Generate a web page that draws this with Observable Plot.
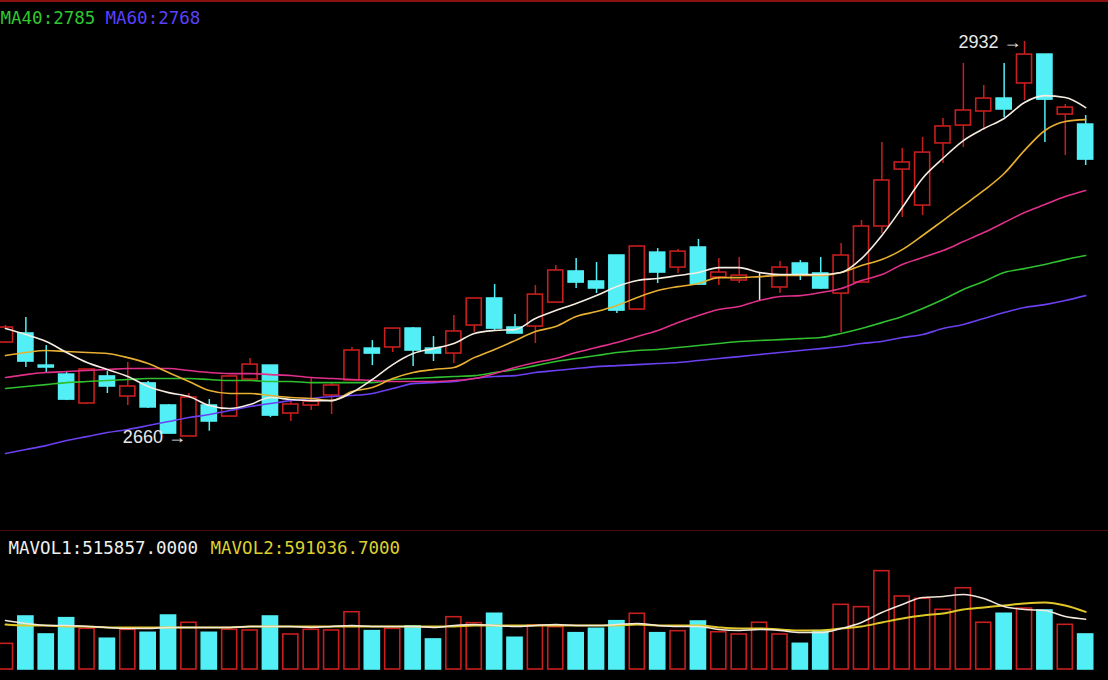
<!DOCTYPE html>
<html><head><meta charset="utf-8">
<script src="https://cdn.jsdelivr.net/npm/d3@7"></script>
<script src="https://cdn.jsdelivr.net/npm/@observablehq/plot@0.6"></script>
<style>
html,body{margin:0;padding:0;background:#000;}
#wrap{position:relative;width:1108px;height:680px;overflow:hidden;background:#000;}
#pricePanel{position:absolute;left:0;top:0;}
#volPanel{position:absolute;left:0;top:531px;}
.line{position:absolute;left:0;width:1108px;}
</style></head><body>
<div id="wrap"><div id="pricePanel"></div><div id="volPanel"></div>
<div class="line" style="top:0;height:2px;background:#8a1010"></div>
<div class="line" style="top:530px;height:1px;background:#4a0a0a"></div></div>
<script>
// ---- data ----
const open  = [2724.7,2730.9,2708.8,2702.6,2682.7,2701.3,2687.5,2696.5,2681.3,2660.0,2681.3,2673.7,2699.2,2708.8,2675.8,2681.3,2688.2,2698.6,2720.5,2721.3,2734.3,2720.5,2717.1,2736.4,2755.0,2735.0,2735.7,2752.2,2773.6,2766.7,2784.6,2747.4,2786.6,2776.3,2790.1,2769.5,2767.4,2763.9,2762.6,2779.1,2772.2,2758.4,2766.0,2804.6,2843.8,2819.0,2861.8,2874.1,2883.8,2892.7,2903.1,2923.0,2881.7,2874.8];
const close = [2735.0,2711.6,2707.5,2685.4,2706.1,2694.4,2694.4,2680.0,2662.0,2686.8,2670.3,2701.3,2709.5,2674.4,2682.0,2684.0,2695.1,2719.2,2717.1,2734.3,2719.2,2717.1,2732.3,2755.0,2734.3,2730.9,2757.7,2774.3,2766.0,2761.9,2746.7,2790.8,2772.9,2787.3,2764.6,2772.9,2770.8,2763.9,2776.3,2770.8,2761.9,2784.6,2804.6,2836.3,2848.7,2855.5,2873.5,2884.5,2892.7,2885.2,2923.0,2892.0,2886.5,2850.7];
const high  = [2736.4,2741.9,2722.6,2704.7,2706.1,2704.7,2710.9,2697.9,2682.0,2689.6,2685.4,2701.3,2713.7,2708.8,2684.7,2699.9,2696.5,2721.3,2726.0,2734.3,2735.0,2728.8,2743.3,2755.0,2764.6,2744.0,2763.9,2777.7,2782.5,2779.8,2784.6,2790.8,2789.4,2788.7,2795.7,2782.5,2783.2,2772.2,2780.5,2781.2,2783.2,2792.9,2808.7,2862.5,2858.3,2865.9,2879.0,2916.9,2901.7,2916.9,2932.0,2923.0,2888.6,2881.0];
const low   = [2724.0,2707.5,2704.0,2684.7,2682.0,2689.6,2681.3,2679.3,2662.0,2660.0,2663.6,2673.7,2698.5,2673.0,2670.3,2677.9,2675.1,2698.6,2708.8,2717.8,2708.1,2711.6,2710.2,2731.6,2733.0,2730.9,2724.0,2752.2,2761.9,2758.4,2744.7,2747.4,2765.3,2772.2,2763.9,2763.9,2765.3,2753.6,2758.4,2767.4,2761.2,2731.6,2766.0,2799.8,2810.8,2812.2,2848.0,2859.0,2870.7,2879.7,2891.4,2862.4,2853.5,2846.6];
const volume = [263000,543000,359000,526000,417000,315000,407000,376000,553000,479000,376000,407000,400000,543000,359000,407000,400000,587000,393000,417000,441000,308000,536000,475000,571000,325000,451000,434000,372000,417000,495000,571000,372000,393000,492000,382000,359000,479000,359000,263000,393000,663000,639000,1008000,748000,725000,612000,833000,479000,571000,625000,605000,458000,359000];
const ma5  = [2734.3,2730.2,2725.4,2717.8,2710.9,2706.1,2701.3,2694.4,2690.2,2687.5,2681.3,2679.2,2682.0,2686.8,2685.4,2684.7,2684.7,2690.2,2699.2,2709.5,2717.1,2720.5,2724.0,2730.9,2733.0,2733.6,2741.2,2746.7,2751.5,2757.0,2763.2,2767.4,2768.8,2770.8,2772.9,2776.3,2776.3,2772.9,2771.5,2771.5,2771.5,2772.9,2782.5,2798.4,2817.7,2837.9,2851.6,2863.8,2872.0,2879.0,2890.0,2894.7,2893.4,2886.5];
const ma10 = [2715.7,2717.8,2719.2,2718.5,2717.8,2717.1,2714.3,2710.2,2704.0,2697.8,2691.6,2689.6,2689.6,2688.2,2686.8,2686.1,2684.7,2690.9,2693.7,2699.9,2704.0,2706.1,2707.5,2714.3,2719.9,2726.0,2732.3,2735.7,2742.6,2746.0,2750.2,2755.7,2760.5,2763.2,2765.3,2769.4,2769.4,2770.1,2770.8,2770.8,2770.8,2772.9,2777.7,2781.8,2788.7,2798.4,2808.7,2819.0,2829.4,2841.1,2857.0,2870.7,2876.9,2878.2];
const ma20 = [2700.6,2702.6,2704.0,2704.7,2705.4,2706.1,2706.8,2706.8,2706.8,2705.4,2704.0,2703.3,2703.3,2702.6,2702.0,2700.6,2699.9,2699.2,2698.5,2697.8,2697.8,2697.8,2698.5,2699.9,2703.3,2707.5,2710.9,2713.7,2717.8,2721.3,2724.7,2728.8,2733.0,2738.4,2743.3,2747.4,2749.5,2753.6,2756.4,2757.0,2759.1,2761.9,2767.4,2771.5,2778.4,2783.2,2788.0,2794.2,2800.4,2807.3,2814.2,2819.7,2825.2,2829.4];
const ma40 = [2693.0,2694.4,2695.7,2697.1,2697.8,2698.5,2699.2,2699.9,2699.9,2699.9,2699.2,2698.5,2698.5,2697.8,2697.8,2697.1,2697.1,2697.1,2697.1,2699.2,2699.9,2700.6,2701.3,2701.9,2704.0,2706.1,2708.8,2711.6,2713.7,2715.7,2717.8,2719.2,2719.9,2721.3,2722.6,2724.0,2725.4,2726.1,2726.7,2727.4,2728.1,2730.9,2734.3,2738.4,2742.6,2748.1,2754.3,2761.2,2766.7,2772.9,2775.6,2778.4,2781.8,2784.6];
const ma60 = [2648.2,2651.0,2653.7,2657.2,2659.9,2662.7,2664.8,2667.5,2670.3,2673.0,2675.1,2677.9,2680.6,2682.7,2684.7,2686.1,2687.5,2688.2,2689.6,2693.0,2696.4,2697.1,2697.8,2699.9,2701.3,2701.9,2704.0,2705.4,2706.8,2708.1,2708.8,2709.5,2710.2,2710.9,2712.3,2713.7,2715.0,2716.4,2717.8,2719.2,2720.5,2721.9,2724.0,2725.4,2728.1,2730.2,2734.3,2737.1,2741.2,2745.3,2748.8,2750.8,2753.6,2757.0];
const mavol1 = [502000,472000,451000,451000,441000,431000,420000,420000,431000,431000,431000,431000,441000,441000,441000,431000,441000,451000,441000,441000,441000,431000,451000,461000,451000,441000,451000,461000,451000,451000,461000,472000,451000,441000,441000,410000,400000,410000,400000,379000,379000,420000,482000,584000,666000,738000,748000,769000,728000,646000,615000,605000,543000,516000];
const mavol2 = [461000,451000,451000,441000,441000,431000,431000,431000,431000,431000,431000,431000,441000,441000,441000,441000,441000,441000,441000,441000,441000,441000,441000,451000,451000,451000,451000,451000,451000,451000,451000,461000,451000,451000,451000,431000,420000,420000,410000,400000,400000,420000,441000,482000,523000,554000,574000,615000,636000,656000,677000,687000,656000,591000];
const maLegend  = [{label: "MA40", value: "2785"}, {label: "MA60", value: "2768"}];
const volLegend = [{label: "MAVOL1", value: "515857.0000"}, {label: "MAVOL2", value: "591036.7000"}];
const extremes = [{i: 50, price: 2932}, {i: 9, price: 2660}];

// ---- styling ----
const RED = "#c81e1e", CYAN = "#52f0f6", DOJI = "#e6e6e6";
const W = 1108;
const xScale = {domain: [-0.245, 54.12], range: [0, W], axis: null};
const mono = "DejaVu Sans Mono, Liberation Mono, monospace";
const sans = "Liberation Sans, DejaVu Sans, sans-serif";

const candles = open.map((o, i) => ({
  i, open: o, close: close[i], high: high[i], low: low[i], vol: volume[i],
  dir: close[i] > o ? "up" : close[i] < o ? "down" : "flat"
}));
const col = d => d.dir === "up" ? RED : d.dir === "down" ? CYAN : DOJI;
const bodyFill = d => d.dir === "down" ? CYAN : "#000";
const idx = d3.range(open.length);
const HW = 0.37;

const maSeries = [
  {v: ma60, c: "#6a40f0"}, {v: ma40, c: "#2fbf2f"}, {v: ma20, c: "#e0308a"},
  {v: ma10, c: "#e8b030"}, {v: ma5, c: "#f5ece2"}
];

const priceChart = Plot.plot({
  width: W, height: 530, margin: 0,
  style: {background: "transparent", color: "#fff", overflow: "visible"},
  x: xScale,
  y: {domain: [2595.23, 2960.24], range: [530, 0], axis: null},
  marks: [
    Plot.ruleX(candles, {x: "i", y1: "low", y2: "high", stroke: col, strokeWidth: 1.5}),
    Plot.rect(candles, {x1: d => d.i - HW, x2: d => d.i + HW, y1: "open", y2: "close",
      fill: bodyFill, stroke: col, strokeWidth: 1.6}),
    ...maSeries.map(s => Plot.line(idx, {x: i => i, y: i => s.v[i], stroke: s.c, strokeWidth: 1.6, curve: "monotone-x"})),
    Plot.text(extremes, {x: "i", y: "price", text: d => `${d.price} →`, textAnchor: "end", dx: -3, dy: 1,
      fill: "#e8e8e8", fontSize: 18, fontFamily: sans}),
    Plot.text([maLegend[0]], {frameAnchor: "top-left", dx: 0, dy: 11, text: d => `${d.label}:${d.value}`,
      fill: "#2fc82f", fontSize: 17.5, fontFamily: mono, textAnchor: "start", lineAnchor: "top"}),
    Plot.text([maLegend[1]], {frameAnchor: "top-left", dx: 105, dy: 11, text: d => `${d.label}:${d.value}`,
      fill: "#5a40ff", fontSize: 17.5, fontFamily: mono, textAnchor: "start", lineAnchor: "top"})
  ]
});
document.getElementById("pricePanel").appendChild(priceChart);

const volChart = Plot.plot({
  width: W, height: 149, margin: 0,
  style: {background: "transparent", color: "#fff", overflow: "visible"},
  x: xScale,
  y: {domain: [0, 1414500], range: [138, 0], axis: null},
  marks: [
    Plot.rect(candles, {x1: d => d.i - HW, x2: d => d.i + HW, y1: 0, y2: "vol",
      fill: d => d.dir === "down" ? CYAN : "#000", stroke: d => d.dir === "down" ? CYAN : RED, strokeWidth: 1.6}),
    Plot.line(idx, {x: i => i, y: i => mavol2[i], stroke: "#e0c828", strokeWidth: 2, curve: "monotone-x"}),
    Plot.line(idx, {x: i => i, y: i => mavol1[i], stroke: "#f2e8dc", strokeWidth: 1.5, curve: "monotone-x"}),
    Plot.text([volLegend[0]], {frameAnchor: "top-left", dx: 8, dy: 10.5, text: d => `${d.label}:${d.value}`,
      fill: "#f0f0f0", fontSize: 17.5, fontFamily: mono, textAnchor: "start", lineAnchor: "top"}),
    Plot.text([volLegend[1]], {frameAnchor: "top-left", dx: 210, dy: 10.5, text: d => `${d.label}:${d.value}`,
      fill: "#dcd030", fontSize: 17.5, fontFamily: mono, textAnchor: "start", lineAnchor: "top"})
  ]
});
document.getElementById("volPanel").appendChild(volChart);
</script></body></html>
